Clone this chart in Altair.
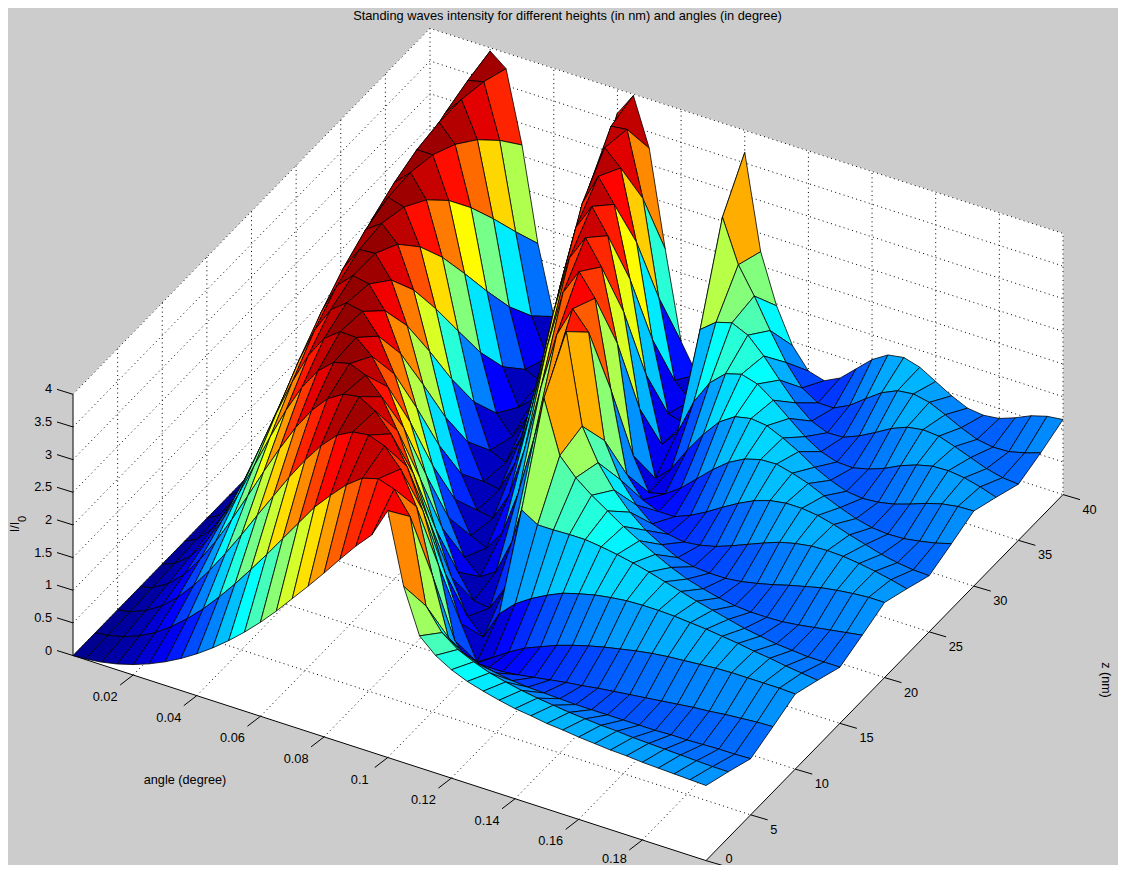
import altair as alt

# Surface heights are estimates
# (ridge crests, troughs and edges), one typed list per angle.
heights = [0, 2.5, 5, 7.5, 10, 12.5, 15, 17.5, 20, 22.5, 25, 27.5, 30, 32.5, 35, 37.5, 40]
angles = [0.0011, 0.005, 0.01, 0.015, 0.02, 0.025, 0.03, 0.035, 0.04, 0.045, 0.05, 0.055, 0.06, 0.065,
          0.07, 0.075, 0.08, 0.085, 0.09, 0.095, 0.1, 0.105, 0.11, 0.115, 0.12, 0.125, 0.13, 0.135,
          0.14, 0.145, 0.15, 0.155, 0.16, 0.165, 0.17, 0.175, 0.18, 0.185, 0.19, 0.195, 0.2]

i_000 = [0, 0, 0, 0, 0, 0, 0, 0, 0, 0.01, 0.01, 0.01, 0.01, 0.01, 0.01, 0.02, 0.02]
i_005 = [.01, .02, .03, .05, .07, .09, .11, .14, .17, .20, .24, .28, .32, .36, .41, .46, .51]
i_010 = [.04, .08, .13, .19, .26, .34, .43, .53, .65, .77, .89, 1.03, 1.16, 1.31, 1.46, 1.61, 1.77]
i_015 = [.09, .17, .28, .41, .57, .74, .93, 1.14, 1.35, 1.58, 1.81, 2.05, 2.28, 2.51, 2.73, 2.95, 3.15]
i_020 = [.16, .30, .49, .72, .97, 1.25, 1.55, 1.86, 2.17, 2.48, 2.77, 3.05, 3.30, 3.53, 3.71, 3.85, 3.95]
i_025 = [.25, .47, .75, 1.08, 1.44, 1.83, 2.22, 2.60, 2.96, 3.28, 3.56, 3.77, 3.92, 3.99, 3.99, 3.91, 3.76]
i_030 = [.36, .67, 1.06, 1.49, 1.96, 2.42, 2.87, 3.26, 3.59, 3.83, 3.97, 4.00, 3.92, 3.73, 3.45, 3.09, 2.67]
i_035 = [.49, .90, 1.40, 1.93, 2.48, 2.98, 3.42, 3.75, 3.95, 4.00, 3.90, 3.66, 3.30, 2.84, 2.32, 1.77, 1.24]
i_040 = [.64, 1.16, 1.76, 2.38, 2.97, 3.46, 3.81, 3.98, 3.97, 3.76, 3.37, 2.86, 2.26, 1.64, 1.05, .56, .20]
i_045 = [.81, 1.44, 2.14, 2.81, 3.40, 3.80, 3.99, 3.93, 3.64, 3.14, 2.50, 1.81, 1.13, .56, .17, .00, .08]
i_050 = [1.0, 1.74, 2.51, 3.21, 3.73, 3.98, 3.94, 3.60, 3.02, 2.28, 1.50, .80, .28, .02, .06, .39, .96]
i_055 = [1.21, 2.05, 2.88, 3.55, 3.94, 3.97, 3.64, 3.02, 2.20, 1.35, .62, .14, .00, .23, .78, 1.55, 2.40]
i_060 = [1.44, 2.37, 3.22, 3.81, 4.0, 3.76, 3.14, 2.27, 1.35, .56, .09, .03, .40, 1.12, 2.02, 2.92, 3.63]
i_065 = [1.69, 2.69, 3.52, 3.96, 3.90, 3.37, 2.48, 1.47, .60, .08, .05, .51, 1.35, 2.36, 3.27, 3.86, 3.98]
i_070 = [1.96, 3.01, 3.76, 4.0, 3.65, 2.82, 1.75, .75, .12, .04, .54, 1.46, 2.54, 3.46, 3.96, 3.89, 3.25]
i_075 = [2.23, 3.27, 3.89, 3.86, 3.21, 2.14, 1.02, .22, .01, .47, 1.42, 2.57, 3.52, 3.95, 3.73, 2.91, 1.79]
i_080 = [2.51, 3.51, 3.92, 3.59, 2.63, 1.43, .42, .00, .33, 1.27, 2.47, 3.48, 3.92, 3.60, 2.67, 1.47, .45]
i_085 = [2.80, 3.69, 3.83, 3.17, 1.98, .77, .06, .16, 1.02, 2.27, 3.38, 3.87, 3.55, 2.53, 1.26, .28, .02]
i_090 = [3.08, 3.76, 3.56, 2.57, 1.26, .25, .03, .70, 1.95, 3.16, 3.78, 3.50, 2.46, 1.15, .20, .05, .80]
i_095 = [3.33, 3.68, 3.06, 1.80, .57, .01, .43, 1.59, 2.90, 3.64, 3.45, 2.41, 1.06, .16, .13, 1.01, 2.34]
i_100 = [3.78, 3.34, 2.09, .74, .06, .45, 1.69, 3.05, 3.72, 3.36, 2.13, .77, .07, .43, 1.65, 3.02, 3.66]
i_105 = [2.70, 2.05, 1.22, .44, .21, .68, 1.54, 2.25, 2.35, 1.78, .91, .28, .30, .97, 1.84, 2.37, 2.22]
i_110 = [2.02, 1.72, 1.05, .46, .37, .84, 1.54, 1.99, 1.87, 1.26, .60, .34, .66, 1.34, 1.91, 1.97, 1.47]
i_115 = [1.80, 1.54, .96, .50, .51, .97, 1.55, 1.80, 1.53, .95, .50, .51, .98, 1.56, 1.80, 1.52, .94]
i_120 = [1.66, 1.43, .91, .53, .61, 1.08, 1.55, 1.64, 1.27, .74, .50, .73, 1.25, 1.63, 1.56, 1.11, .63]
i_125 = [1.56, 1.34, .87, .57, .71, 1.15, 1.52, 1.48, 1.07, .66, .60, .95, 1.41, 1.56, 1.27, .80, .56]
i_130 = [1.49, 1.28, .85, .61, .79, 1.21, 1.48, 1.34, .93, .62, .73, 1.14, 1.46, 1.39, 1.00, .65, .68]
i_135 = [1.43, 1.23, .84, .65, .86, 1.25, 1.43, 1.21, .81, .65, .88, 1.27, 1.43, 1.19, .80, .65, .90]
i_140 = [1.38, 1.19, .83, .68, .92, 1.28, 1.37, 1.09, .75, .71, 1.02, 1.34, 1.32, .99, .70, .77, 1.12]
i_145 = [1.35, 1.16, .82, .72, .97, 1.29, 1.30, .99, .73, .80, 1.14, 1.35, 1.19, .84, .71, .95, 1.27]
i_150 = [1.31, 1.13, .82, .75, 1.02, 1.29, 1.23, .92, .73, .90, 1.22, 1.29, 1.03, .76, .81, 1.12, 1.31]
i_155 = [1.29, 1.11, .82, .78, 1.06, 1.28, 1.16, .86, .76, 1.00, 1.26, 1.21, .91, .75, .94, 1.23, 1.24]
i_160 = [1.26, 1.09, .82, .81, 1.09, 1.26, 1.10, .82, .81, 1.09, 1.26, 1.10, .82, .81, 1.08, 1.26, 1.10]
i_165 = [1.24, 1.08, .82, .84, 1.11, 1.24, 1.04, .80, .87, 1.15, 1.23, 1.00, .79, .90, 1.18, 1.21, .96]
i_170 = [1.22, 1.06, .82, .87, 1.13, 1.21, .98, .80, .94, 1.19, 1.17, .91, .81, 1.02, 1.22, 1.10, .85]
i_175 = [1.21, 1.05, .83, .90, 1.15, 1.18, .94, .81, 1.00, 1.20, 1.09, .85, .86, 1.11, 1.20, .98, .82]
i_180 = [1.19, 1.04, .83, .92, 1.16, 1.14, .90, .84, 1.06, 1.19, 1.02, .83, .94, 1.17, 1.12, .88, .85]
i_185 = [1.18, 1.03, .84, .95, 1.16, 1.11, .88, .88, 1.10, 1.16, .95, .84, 1.03, 1.18, 1.03, .84, .94]
i_190 = [1.17, 1.02, .85, .97, 1.16, 1.07, .86, .92, 1.13, 1.12, .90, .88, 1.10, 1.15, .94, .85, 1.05]
i_195 = [1.16, 1.01, .85, .99, 1.16, 1.04, .86, .96, 1.15, 1.07, .87, .93, 1.14, 1.09, .88, .91, 1.12]
i_200 = [1.15, 1.01, .86, 1.00, 1.15, 1.01, .86, 1.00, 1.15, 1.01, .86, 1.00, 1.15, 1.01, .86, .99, 1.15]

columns = [i_000, i_005, i_010, i_015, i_020, i_025, i_030, i_035, i_040, i_045, i_050, i_055, i_060, i_065,
           i_070, i_075, i_080, i_085, i_090, i_095, i_100, i_105, i_110, i_115, i_120, i_125, i_130, i_135,
           i_140, i_145, i_150, i_155, i_160, i_165, i_170, i_175, i_180, i_185, i_190, i_195, i_200]

angle_ticks = [0.02, 0.04, 0.06, 0.08, 0.1, 0.12, 0.14, 0.16, 0.18]
angle_tick_labels = ["0.02", "0.04", "0.06", "0.08", "0.1", "0.12", "0.14", "0.16", "0.18"]
z_ticks = [0, 5, 10, 15, 20, 25, 30, 35, 40]
i_ticks = [0, 0.5, 1, 1.5, 2, 2.5, 3, 3.5, 4]
i_tick_labels = ["0", "0.5", "1", "1.5", "2", "2.5", "3", "3.5", "4"]

A_LO, A_HI, Z_LO, Z_HI, I_LO, I_HI = 0.0011, 0.2, 0, 40, 0, 4
FONT = "Liberation Sans"
PROJ = dict(type="identity", scale=1, translate=[0, 0])
CHART_W, CHART_H = 1110, 857


def view(a, z, i=0.0):
    """Oblique 3-D view used by the figure: (angle, z, intensity) -> chart pixels."""
    return [61.5 + 3182.5 * a + 8.925 * z, 646.4 + 1031 * a - 9.15 * z - 65.3 * i]


def feature(kind, coords, **props):
    return {"type": "Feature", "geometry": {"type": kind, "coordinates": coords}, "properties": props}


def shapes(features):
    return alt.InlineData(values={"type": "FeatureCollection", "features": features},
                          format=alt.DataFormat(property="features", type="json"))


# --- walls and floor
corners = [
    [view(A_LO, Z_LO), view(A_LO, Z_LO, I_HI), view(A_LO, Z_HI, I_HI), view(A_LO, Z_HI)],
    [view(A_LO, Z_HI), view(A_LO, Z_HI, I_HI), view(A_HI, Z_HI, I_HI), view(A_HI, Z_HI)],
    [view(A_LO, Z_LO), view(A_LO, Z_HI), view(A_HI, Z_HI), view(A_HI, Z_LO)],
]
walls = alt.Chart(shapes([feature("Polygon", [c + [c[0]]]) for c in corners])).mark_geoshape(
    fill="white", stroke="white", strokeWidth=0.5).project(**PROJ)

# --- dotted grid
dots = []
for a in angle_ticks:
    dots.append(feature("LineString", [view(a, Z_LO), view(a, Z_HI), view(a, Z_HI, I_HI)]))
for z in z_ticks[1:-1]:
    dots.append(feature("LineString", [view(A_LO, z, I_HI), view(A_LO, z), view(A_HI, z)]))
for i in i_ticks[1:-1]:
    dots.append(feature("LineString", [view(A_LO, Z_LO, i), view(A_LO, Z_HI, i), view(A_HI, Z_HI, i)]))
dots.append(feature("LineString", [view(A_LO, Z_LO, I_HI), view(A_LO, Z_HI, I_HI), view(A_HI, Z_HI, I_HI), view(A_HI, Z_HI)]))
dots.append(feature("LineString", [view(A_LO, Z_HI, I_HI), view(A_LO, Z_HI)]))
dots.append(feature("LineString", [view(A_LO, Z_LO), view(A_LO, Z_HI), view(A_HI, Z_HI)]))
grid = alt.Chart(shapes(dots)).mark_geoshape(filled=False, stroke="black", strokeWidth=1,
                                             strokeDash=[1, 3.4]).project(**PROJ)


# --- axis lines and ticks
def shifted(p, dx, dy):
    return [p[0] + dx, p[1] + dy]


solid = [feature("LineString", [view(A_LO, Z_LO, I_HI), view(A_LO, Z_LO), view(A_HI, Z_LO), view(A_HI, Z_HI)])]
for i in i_ticks:
    p = view(A_LO, Z_LO, i)
    solid.append(feature("LineString", [p, shifted(p, -16, -5)]))
for a in angle_ticks:
    p = view(a, Z_LO)
    solid.append(feature("LineString", [p, shifted(p, -13, 10)]))
for z in z_ticks:
    p = view(A_HI, z)
    solid.append(feature("LineString", [p, shifted(p, 17, 5)]))
axes = alt.Chart(shapes(solid)).mark_geoshape(filled=False, stroke="black", strokeWidth=1).project(**PROJ)

# --- surface, back to front
quads = []
for k in range(len(heights) - 2, -1, -1):
    for n in range(len(angles) - 1):
        a0, a1 = angles[n], angles[n + 1]
        z0, z1 = heights[k], heights[k + 1]
        v00, v10 = columns[n][k], columns[n + 1][k]
        v01, v11 = columns[n][k + 1], columns[n + 1][k + 1]
        ring = [view(a0, z0, v00), view(a1, z0, v10), view(a1, z1, v11), view(a0, z1, v01), view(a0, z0, v00)]
        quads.append(feature("Polygon", [ring], v=round((v00 + v10 + v01 + v11) / 4, 3)))

surface = alt.Chart(shapes(quads)).mark_geoshape(stroke="black", strokeWidth=0.8).encode(
    fill=alt.Fill("properties.v:Q", legend=None,
                  scale=alt.Scale(domain=[0, 0.5, 1.5, 2.5, 3.5, 4], interpolate="rgb",
                                  range=["#00008f", "#0000ff", "#00ffff", "#ffff00", "#ff0000", "#800000"]))
).project(**PROJ)


# --- text
def text_layer(rows, **mark):
    return alt.Chart(alt.Data(values=rows)).mark_text(font=FONT, color="black", **mark).encode(
        longitude="x:Q", latitude="y:Q", text="t:N").project(**PROJ)


def at(p, dx, dy, t):
    # labels that would fall off the bottom of the chart stay just inside it
    return {"x": p[0] + dx, "y": min(p[1] + dy, CHART_H - 6), "t": t}


i_labels = text_layer([at(view(A_LO, Z_LO, v), -21, -5, t) for v, t in zip(i_ticks, i_tick_labels)],
                      align="right", baseline="middle", fontSize=12.8)
a_labels = text_layer([at(view(v, Z_LO), -28, 22, t) for v, t in zip(angle_ticks, angle_tick_labels)],
                      align="center", baseline="middle", fontSize=12.8)
z_labels = text_layer([at(view(A_HI, v), 19.5, 15, str(v)) for v in z_ticks],
                      align="left", baseline="middle", fontSize=12.8)
title = text_layer([{"x": 559.5, "y": 7.5, "t": "Standing waves intensity for different heights (in nm) and angles (in degree)"}],
                   align="center", baseline="middle", fontSize=12.8)
angle_name = text_layer([{"x": 177, "y": 772, "t": "angle (degree)"}], align="center", baseline="middle", fontSize=12.7)
z_name = text_layer([{"x": 1097.7, "y": 672, "t": "z (nm)"}], align="center", baseline="middle", fontSize=12.5, angle=90)
i_name = text_layer([{"x": 7, "y": 519, "t": "I/I"}], align="center", baseline="middle", fontSize=12.5, angle=270)
i_sub = text_layer([{"x": 15, "y": 511, "t": "0"}], align="center", baseline="middle", fontSize=11, angle=270)

chart = alt.layer(walls, grid, axes, surface, i_labels, a_labels, z_labels, title, angle_name, z_name, i_name, i_sub
                  ).properties(
    width=CHART_W, height=CHART_H, padding=0, autosize=alt.AutoSizeParams(type="none"),
    background="#cccccc",
).configure_view(stroke=None)

chart.save("out.html", embed_options={"renderer": "svg", "actions": False})
